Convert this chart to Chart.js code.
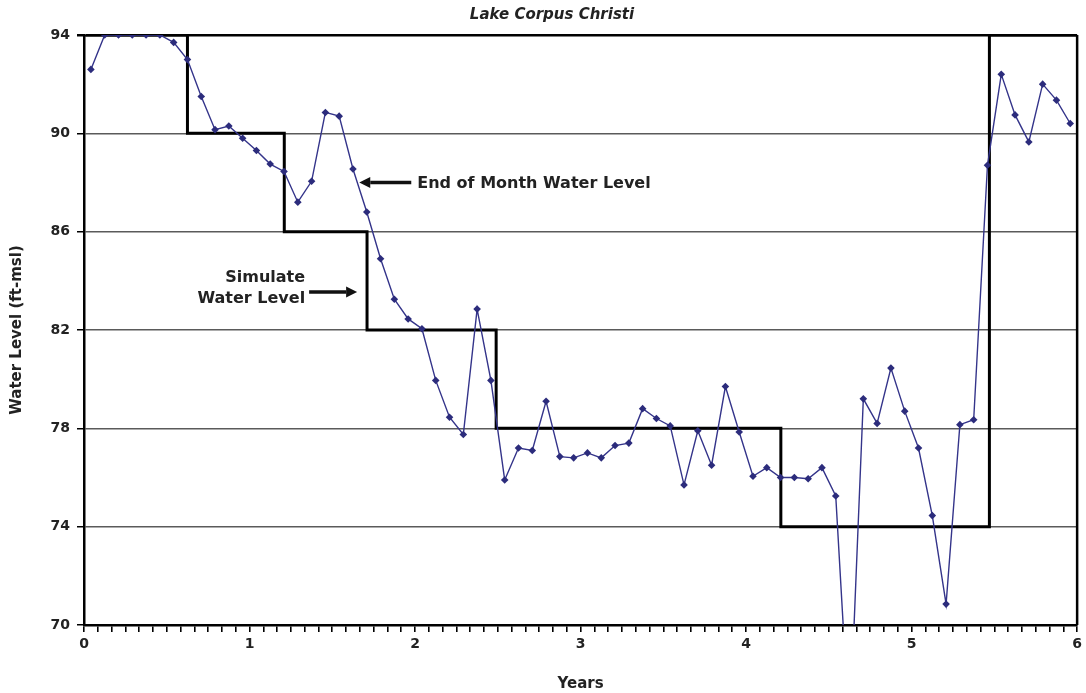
<!DOCTYPE html>
<html>
<head>
<meta charset="utf-8">
<script src="https://cdn.jsdelivr.net/npm/chart.js@4/dist/chart.umd.min.js"></script>
<style>
  html, body { margin: 0; padding: 0; background: #fff; }
  #wrap { width: 1086px; height: 693px; }
</style>
</head>
<body>
<div id="wrap"><canvas id="c" width="1086" height="693"></canvas></div>
<script>
const FONT = '"DejaVu Sans", Arial, sans-serif';

// Month of record (mid-month) for each end-of-month reading
const monthNumbers = [
  0.5, 1.5, 2.5, 3.5, 4.5, 5.5, 6.5, 7.5, 8.5, 9.5, 10.5, 11.5,
  12.5, 13.5, 14.5, 15.5, 16.5, 17.5, 18.5, 19.5, 20.5, 21.5, 22.5, 23.5,
  24.5, 25.5, 26.5, 27.5, 28.5, 29.5, 30.5, 31.5, 32.5, 33.5, 34.5, 35.5,
  36.5, 37.5, 38.5, 39.5, 40.5, 41.5, 42.5, 43.5, 44.5, 45.5, 46.5, 47.5,
  48.5, 49.5, 50.5, 51.5, 52.5, 53.5, 54.5, 55.5, 56.5, 57.5, 58.5, 59.5,
  60.5, 61.5, 62.5, 63.5, 64.5, 65.5, 66.5, 67.5, 68.5, 69.5, 70.5, 71.5
];

// End of month water level (ft-msl)
const endOfMonthLevel = [
  92.6, 94.0, 94.0, 94.0, 94.0, 94.0, 93.7, 93.0, 91.5, 90.15, 90.3, 89.8,
  89.3, 88.75, 88.45, 87.2, 88.05, 90.85, 90.7, 88.55, 86.8, 84.9, 83.25, 82.45,
  82.05, 79.95, 78.45, 77.75, 82.85, 79.95, 75.9, 77.2, 77.1, 79.1, 76.85, 76.8,
  77.0, 76.8, 77.3, 77.4, 78.8, 78.4, 78.1, 75.7, 77.9, 76.5, 79.7, 77.85,
  76.05, 76.4, 76.0, 76.0, 75.95, 76.4, 75.25, 65.5, 79.2, 78.2, 80.45, 78.7,
  77.2, 74.45, 70.85, 78.15, 78.35, 88.7, 92.4, 90.75, 89.65, 92.0, 91.35, 90.4
];

// Simulated water level: year each level starts, and the level held
const simStartYears = [0, 0.625, 1.21, 1.71, 2.49, 4.21, 5.47, 6];
const simLevels     = [94, 90, 86, 82, 78, 74, 94, 94];

// Axis ranges and tick labels
const yTickValues = [70, 74, 78, 82, 86, 90, 94];
const xTickLabels = ['0', '1', '2', '3', '4', '5', '6'];

const observed = monthNumbers.map((m, i) => ({ x: m / 12, y: endOfMonthLevel[i] }));
const simulated = simStartYears.map((yr, i) => ({ x: yr, y: simLevels[i] }));

function arrow(ctx, x0, y0, x1, y1) {
  const ang = Math.atan2(y1 - y0, x1 - x0);
  const head = 11, half = 5.5;
  const bx = x1 - Math.cos(ang) * head, by = y1 - Math.sin(ang) * head;
  ctx.beginPath();
  ctx.moveTo(x0, y0);
  ctx.lineTo(bx, by);
  ctx.lineWidth = 3.5;
  ctx.strokeStyle = '#111';
  ctx.stroke();
  ctx.beginPath();
  ctx.moveTo(x1, y1);
  ctx.lineTo(bx - Math.sin(ang) * half, by + Math.cos(ang) * half);
  ctx.lineTo(bx + Math.sin(ang) * half, by - Math.cos(ang) * half);
  ctx.closePath();
  ctx.fillStyle = '#111';
  ctx.fill();
}

// Frame, title and the two callouts
const decorations = {
  id: 'decorations',
  afterDatasetsDraw(chart) {
    const { ctx, chartArea: a } = chart;
    ctx.save();
    ctx.beginPath();
    ctx.moveTo(a.right, a.top);
    ctx.lineTo(a.right, a.bottom);
    ctx.lineWidth = 2.5;
    ctx.strokeStyle = '#000';
    ctx.stroke();
    ctx.restore();
  },
  afterDraw(chart) {
    const { ctx, scales: { x, y } } = chart;
    ctx.save();
    ctx.fillStyle = '#222';
    ctx.textBaseline = 'middle';

    ctx.font = 'italic bold 15px ' + FONT;
    ctx.textAlign = 'center';
    ctx.fillText('Lake Corpus Christi', 552, 15);

    // End of month callout
    const tipA = { x: x.getPixelForValue(1.663), y: y.getPixelForValue(88.0) };
    arrow(ctx, tipA.x + 52, tipA.y, tipA.x, tipA.y);
    ctx.fillStyle = '#222';
    ctx.font = 'bold 16px ' + FONT;
    ctx.textAlign = 'left';
    ctx.fillText('End of Month Water Level', tipA.x + 58, tipA.y + 1);

    // Simulated level callout
    const tipB = { x: x.getPixelForValue(1.65), y: y.getPixelForValue(83.55) };
    arrow(ctx, tipB.x - 48, tipB.y, tipB.x, tipB.y);
    ctx.fillStyle = '#222';
    ctx.textAlign = 'right';
    ctx.fillText('Simulate', tipB.x - 52, tipB.y - 14);
    ctx.fillText('Water Level', tipB.x - 52, tipB.y + 7);
    ctx.restore();
  }
};

new Chart(document.getElementById('c'), {
  type: 'line',
  data: {
    datasets: [
      {
        label: 'Simulated Water Level',
        data: simulated,
        stepped: 'before',
        borderColor: '#000',
        borderWidth: 3,
        pointRadius: 0,
        fill: false,
        order: 2
      },
      {
        label: 'End of Month Water Level',
        data: observed,
        borderColor: '#34348a',
        backgroundColor: '#2c2c7c',
        borderWidth: 1.4,
        pointStyle: 'rectRot',
        pointRadius: 3.8,
        pointBorderWidth: 0,
        tension: 0,
        fill: false,
        order: 1
      }
    ]
  },
  options: {
    responsive: false,
    animation: false,
    devicePixelRatio: 1,
    layout: { padding: { top: 35, right: 6, left: 0, bottom: 0 } },
    plugins: {
      legend: { display: false },
      tooltip: { enabled: false },
      title: { display: false }
    },
    scales: {
      x: {
        type: 'linear',
        min: 0,
        max: 6,
        afterFit: (s) => { s.height = 68; },
        ticks: {
          stepSize: 1 / 12,
          autoSkip: false,
          maxRotation: 0,
          color: '#222',
          padding: 4,
          font: { family: FONT, size: 14, weight: 'bold' },
          callback: (v) => {
            const m = Math.round(v * 12);
            return m % 12 === 0 ? xTickLabels[m / 12] : '';
          }
        },
        grid: {
          drawOnChartArea: false,
          drawTicks: true,
          tickLength: 7,
          color: '#000',
          lineWidth: 1.6
        },
        border: { color: '#000', width: 2.5 },
        title: {
          display: true,
          text: 'Years',
          color: '#222',
          font: { family: FONT, size: 15, weight: 'bold' },
          padding: { top: 0, bottom: 0 }
        }
      },
      y: {
        min: 70,
        max: 94,
        afterFit: (s) => { s.width = 84; },
        afterBuildTicks: (s) => { s.ticks = yTickValues.map(v => ({ value: v })); },
        ticks: {
          stepSize: 4,
          color: '#222',
          padding: 7,
          font: { family: FONT, size: 14, weight: 'bold' }
        },
        grid: {
          color: (c) => (c.tick && c.tick.value === 94 ? '#000' : '#5a5a5a'),
          lineWidth: (c) => (c.tick && c.tick.value === 94 ? 2.5 : 1.5),
          tickColor: '#000',
          tickLength: 7
        },
        border: { color: '#000', width: 2.5 },
        title: {
          display: true,
          text: 'Water Level (ft-msl)',
          color: '#222',
          font: { family: FONT, size: 15, weight: 'bold' },
          padding: { top: 8, bottom: 0 }
        }
      }
    }
  },
  plugins: [decorations]
});
</script>
</body>
</html>
